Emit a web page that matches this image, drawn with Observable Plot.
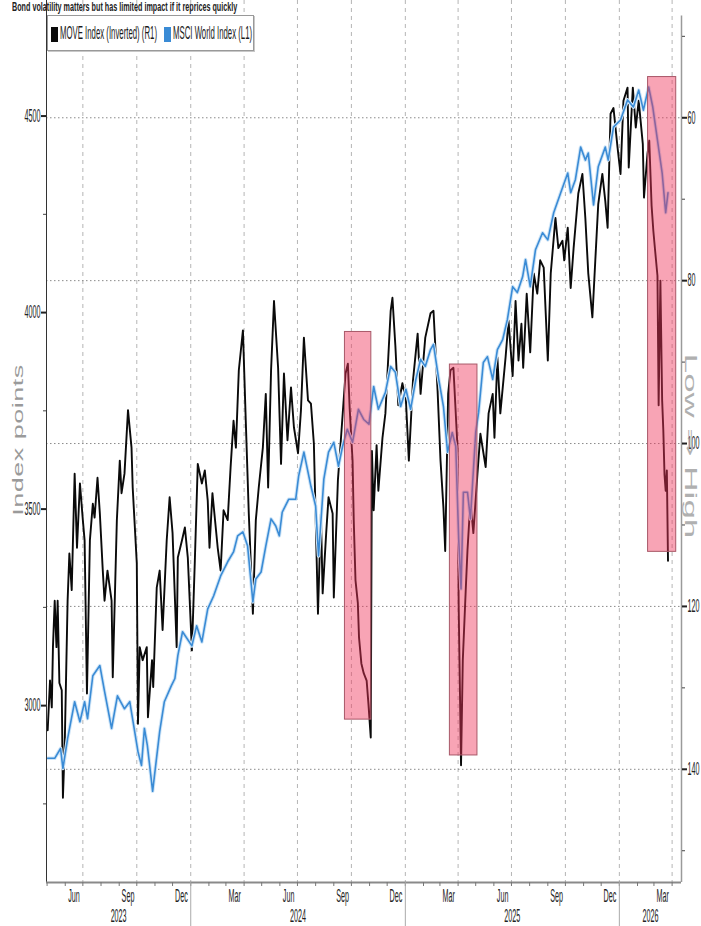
<!DOCTYPE html>
<html><head><meta charset="utf-8">
<script src="https://cdn.jsdelivr.net/npm/d3@7"></script>
<script src="https://cdn.jsdelivr.net/npm/@observablehq/plot@0.6"></script>
<style>
body{margin:0;background:#fff;}
#wrap{position:relative;width:701px;height:926px;overflow:hidden;background:#fff;font-family:"Liberation Sans",Arial,sans-serif;}
#wrap svg{position:absolute;left:0;top:0;}
#title{position:absolute;left:12px;top:1px;font-size:12px;line-height:12px;font-weight:bold;color:#222;white-space:nowrap;transform:scaleX(0.6);transform-origin:left top;}
#legend{position:absolute;left:47px;top:15px;width:205px;height:34px;background:#fff;border:1px solid #999;box-shadow:1px 1px 0 #c8c8c8;}
.lg{position:absolute;top:6px;font-size:19px;color:#1a1a1a;white-space:nowrap;transform:scaleX(0.41);transform-origin:left top;line-height:22px;}
.sw{position:absolute;top:11px;width:7px;height:15px;}
#ylab{position:absolute;left:18px;top:440px;font-size:27px;color:#9a9a9a;white-space:nowrap;transform:translate(-50%,-50%) rotate(-90deg) scaleY(0.55);letter-spacing:0.5px;}
#lowhigh{position:absolute;left:691px;top:446px;font-size:35px;color:#b0b0b0;white-space:nowrap;transform:translate(-50%,-50%) rotate(90deg) scaleY(0.47);}
</style></head>
<body><div id="wrap"></div>
<script>
// ---------- data ----------
const titleText = "Bond volatility matters but has limited impact if it reprices quickly";
const seriesNames = ["MOVE Index (Inverted) (R1)", "MSCI World Index (L1)"];
const seriesColors = ["#0a0a0a", "#3a8bd5"];

const moveDates = ["2023-05-02","2023-05-06","2023-05-09","2023-05-11","2023-05-14","2023-05-17","2023-05-19","2023-05-22","2023-05-26","2023-05-28","2023-05-31","2023-06-05","2023-06-08","2023-06-12","2023-06-17","2023-06-21","2023-06-26","2023-07-01","2023-07-04","2023-07-08","2023-07-13","2023-07-18","2023-07-21","2023-07-26","2023-07-30","2023-08-04","2023-08-07","2023-08-12","2023-08-19","2023-08-21","2023-08-28","2023-09-02","2023-09-05","2023-09-10","2023-09-16","2023-09-22","2023-09-24","2023-10-01","2023-10-03","2023-10-06","2023-10-11","2023-10-18","2023-10-20","2023-10-27","2023-10-29","2023-11-04","2023-11-09","2023-11-14","2023-11-21","2023-11-26","2023-12-01","2023-12-08","2023-12-10","2023-12-17","2023-12-22","2023-12-27","2024-01-03","2024-01-08","2024-01-13","2024-01-20","2024-01-25","2024-01-30","2024-02-02","2024-02-07","2024-02-16","2024-02-21","2024-02-26","2024-03-04","2024-03-09","2024-03-14","2024-03-18","2024-03-23","2024-03-30","2024-04-04","2024-04-09","2024-04-16","2024-04-21","2024-04-26","2024-05-03","2024-05-08","2024-05-12","2024-05-17","2024-05-22","2024-05-29","2024-06-03","2024-06-08","2024-06-14","2024-06-20","2024-06-25","2024-07-02","2024-07-07","2024-07-12","2024-07-19","2024-07-24","2024-07-29","2024-08-05","2024-08-10","2024-08-13","2024-08-19","2024-08-23","2024-08-30","2024-09-01","2024-09-08","2024-09-13","2024-09-21","2024-09-25","2024-09-28","2024-10-03","2024-10-05","2024-10-08","2024-10-12","2024-10-14","2024-10-18","2024-10-22","2024-10-27","2024-10-30","2024-11-03","2024-11-05","2024-11-08","2024-11-13","2024-11-16","2024-11-23","2024-11-28","2024-12-07","2024-12-10","2024-12-15","2024-12-20","2024-12-27","2025-01-02","2025-01-07","2025-01-14","2025-01-22","2025-01-27","2025-02-04","2025-02-13","2025-02-18","2025-02-25","2025-03-02","2025-03-07","2025-03-10","2025-03-15","2025-03-19","2025-03-24","2025-03-31","2025-04-02","2025-04-06","2025-04-09","2025-04-14","2025-04-17","2025-04-22","2025-04-27","2025-05-04","2025-05-09","2025-05-18","2025-05-23","2025-05-30","2025-06-02","2025-06-07","2025-06-12","2025-06-21","2025-06-26","2025-07-03","2025-07-08","2025-07-13","2025-07-18","2025-07-21","2025-07-27","2025-08-02","2025-08-08","2025-08-14","2025-08-19","2025-08-25","2025-09-01","2025-09-06","2025-09-14","2025-09-19","2025-09-26","2025-09-29","2025-10-05","2025-10-10","2025-10-15","2025-10-23","2025-10-30","2025-11-04","2025-11-09","2025-11-16","2025-11-21","2025-11-26","2025-12-03","2025-12-08","2025-12-12","2025-12-17","2025-12-22","2025-12-29","2026-01-03","2026-01-08","2026-01-15","2026-01-17","2026-01-24","2026-01-29","2026-02-03","2026-02-10","2026-02-12","2026-02-18","2026-02-21","2026-02-25","2026-02-28","2026-03-03","2026-03-07","2026-03-09","2026-03-12","2026-03-15","2026-03-17","2026-03-19","2026-03-21","2026-03-23","2026-03-25"];
const moveValues = [135.2,129.1,132.4,125.0,119.3,125.0,119.3,129.4,130.3,143.5,137.3,119.3,113.5,118.0,103.7,112.8,104.9,109.4,111.9,130.7,111.9,107.4,109.1,104.2,108.6,115.6,119.3,115.6,119.3,128.7,109.4,102.1,106.1,103.7,95.9,100.5,105.4,114.7,134.4,125.0,126.6,125.0,133.6,126.6,129.9,117.7,115.6,122.9,111.9,106.6,111.0,125.0,114.0,111.9,110.3,114.0,125.4,114.4,102.5,104.9,103.3,107.0,112.8,106.1,112.8,115.6,108.2,109.4,102.9,97.2,100.5,91.0,86.1,97.5,108.6,120.9,109.4,105.4,100.5,93.9,105.4,91.0,82.5,90.7,102.5,91.4,99.6,93.1,98.0,101.2,95.9,87.0,94.7,95.1,100.0,120.9,108.6,118.4,111.0,106.6,108.6,118.9,104.5,99.6,91.4,90.2,95.6,102.1,109.4,116.8,119.6,123.8,127.0,128.2,129.1,131.9,136.1,100.9,108.2,100.2,105.8,99.3,96.3,83.7,82.1,88.0,95.3,92.6,94.7,102.1,92.3,86.5,93.9,87.0,84.0,83.7,93.5,102.1,107.9,113.2,93.9,91.0,90.7,100.5,120.1,139.5,126.6,118.0,113.1,107.0,111.0,103.7,98.8,102.9,96.3,93.9,99.3,89.4,96.3,89.4,84.9,91.7,82.5,89.8,85.3,90.7,81.6,88.8,79.1,81.6,77.5,78.4,89.8,79.1,72.3,76.0,75.1,77.5,73.5,80.9,76.0,69.3,66.9,72.3,79.1,84.5,77.5,70.6,66.9,70.2,73.5,59.5,58.8,63.7,66.9,57.9,56.3,66.1,56.3,61.2,57.9,63.2,69.8,64.4,62.8,70.8,73.9,76.3,79.4,95.3,80.0,94.7,98.4,103.8,105.8,103.3,114.4];

const msciDates = ["2023-05-02","2023-05-14","2023-05-24","2023-05-28","2023-06-05","2023-06-17","2023-06-26","2023-07-04","2023-07-09","2023-07-18","2023-07-30","2023-08-07","2023-08-19","2023-08-29","2023-09-10","2023-09-19","2023-10-03","2023-10-09","2023-10-14","2023-10-19","2023-10-28","2023-11-09","2023-11-17","2023-11-29","2023-12-05","2023-12-10","2023-12-18","2024-01-03","2024-01-11","2024-01-20","2024-01-30","2024-02-09","2024-02-21","2024-03-04","2024-03-14","2024-03-21","2024-03-30","2024-04-07","2024-04-16","2024-04-21","2024-04-30","2024-05-08","2024-05-17","2024-05-25","2024-05-31","2024-06-05","2024-06-16","2024-06-28","2024-07-03","2024-07-12","2024-07-24","2024-08-01","2024-08-06","2024-08-15","2024-08-23","2024-09-01","2024-09-09","2024-09-16","2024-09-24","2024-10-03","2024-10-13","2024-10-22","2024-10-31","2024-11-08","2024-11-16","2024-11-28","2024-12-07","2024-12-15","2024-12-24","2025-01-02","2025-01-10","2025-01-19","2025-01-27","2025-02-04","2025-02-13","2025-02-18","2025-02-27","2025-03-07","2025-03-14","2025-03-22","2025-03-28","2025-04-02","2025-04-06","2025-04-10","2025-04-17","2025-04-22","2025-05-01","2025-05-06","2025-05-14","2025-05-21","2025-05-30","2025-06-07","2025-06-16","2025-06-24","2025-07-03","2025-07-11","2025-07-20","2025-07-25","2025-08-02","2025-08-11","2025-08-23","2025-09-01","2025-09-11","2025-09-23","2025-10-05","2025-10-10","2025-10-18","2025-10-27","2025-11-04","2025-11-09","2025-11-18","2025-11-26","2025-12-08","2025-12-13","2025-12-22","2026-01-03","2026-01-15","2026-01-25","2026-02-03","2026-02-11","2026-02-20","2026-02-27","2026-03-07","2026-03-15","2026-03-21","2026-03-25"];
const msciValues = [2866,2866,2891,2840,2916,3010,2959,3010,2967,3076,3102,3036,2942,3025,2992,3010,2883,2848,2942,2899,2782,2934,3010,3051,3069,3127,3188,3152,3203,3162,3246,3279,3330,3366,3391,3432,3442,3406,3264,3322,3340,3406,3475,3457,3432,3492,3525,3525,3584,3645,3558,3508,3381,3576,3645,3670,3609,3660,3703,3670,3754,3728,3716,3812,3754,3797,3863,3848,3761,3805,3754,3830,3881,3863,3906,3919,3830,3761,3645,3695,3660,3424,3297,3543,3543,3475,3695,3746,3873,3888,3830,3906,3931,3982,4066,4051,4091,4135,4066,4160,4203,4185,4254,4305,4355,4305,4338,4421,4388,4406,4274,4371,4421,4388,4472,4490,4541,4523,4566,4515,4574,4523,4439,4355,4254,4305];

// highlighted windows (MOVE units for top / bottom)
const boxStart = ["2024-09-20","2025-03-18","2026-02-19"];
const boxEnd   = ["2024-11-04","2025-05-04","2026-04-08"];
const boxTop    = [86.3, 90.3, 55.0];
const boxBottom = [133.9, 138.3, 113.3];

// axes
const xDomain = ["2023-04-30","2026-04-17"];
const leftDomain = [2550, 4794];      // MSCI World, bottom -> top
const rightDomain = [153.9, 45.6];    // MOVE inverted, bottom -> top
const leftTicks = [3000, 3500, 4000, 4500];
const leftMinor = [2750, 3250, 3750, 4250];
const rightTicks = [60, 80, 100, 120, 140];
const rightMinor = [50, 70, 90, 110, 130, 150];
const labeledMonths = ["Mar", "Jun", "Sep", "Dec"];
const leftLabel = "Index points";
const rightNote = "Low \u21D2 High";

// ---------- build ----------
const parse = d3.utcParse("%Y-%m-%d");
const moveData = moveDates.map((d, i) => ({date: parse(d), value: moveValues[i]}));
const msciData = msciDates.map((d, i) => ({date: parse(d), value: msciValues[i]}));
const boxes = boxStart.map((d, i) => ({x1: parse(d), x2: parse(boxEnd[i]), top: boxTop[i], bottom: boxBottom[i]}));
const xd = xDomain.map(parse);
const toY = d3.scaleLinear().domain(rightDomain).range(leftDomain);

const months = d3.utcMonths(xd[0], xd[1]);
const quarterStarts = months.filter(d => d.getUTCMonth() % 3 === 0);
const fmtMonth = d3.utcFormat("%b");
const labelDates = months.filter(d => labeledMonths.includes(fmtMonth(d))).map(d => d3.utcDay.offset(d, 15));
const yearStarts = months.filter(d => d.getUTCMonth() === 0);
const years = d3.range(xd[0].getUTCFullYear(), xd[1].getUTCFullYear() + 1);
const yearCenters = years.map(y => {
  const a = Math.max(+xd[0], Date.UTC(y, 0, 1)), b = Math.min(+xd[1], Date.UTC(y + 1, 0, 1));
  return new Date((a + b) / 2);
});

const chart = Plot.plot({
  width: 701, height: 926,
  marginTop: 0, marginBottom: 44, marginLeft: 46, marginRight: 20,
  x: {type: "utc", domain: xd, label: null},
  y: {domain: leftDomain, label: null},
  style: {fontFamily: '"Liberation Sans", Arial, sans-serif', fontSize: "18px", color: "#222", background: "#fff"},
  marks: [
    Plot.gridX({ticks: quarterStarts, stroke: "#b5b5b5", strokeOpacity: 1, strokeDasharray: "4,4"}),
    Plot.gridY({ticks: rightTicks.map(toY), stroke: "#8a8a8a", strokeOpacity: 1, strokeDasharray: "1.5,2.5"}),
    Plot.line(moveData, {x: "date", y: d => toY(d.value), stroke: seriesColors[0], strokeWidth: 1.9}),
    Plot.line(msciData, {x: "date", y: "value", stroke: "#cfe5f7", strokeWidth: 3.6}),
    Plot.line(msciData, {x: "date", y: "value", stroke: seriesColors[1], strokeWidth: 1.6}),
    Plot.rect(boxes, {x1: "x1", x2: "x2", y1: d => toY(d.top), y2: d => toY(d.bottom), fill: "#f0365a", fillOpacity: 0.45, stroke: "#a85868", strokeWidth: 1}),
    Plot.ruleX([xd[0]], {stroke: "#333", strokeWidth: 1}),
    Plot.ruleX([xd[1]], {y1: leftDomain[0], y2: toY(47.5), stroke: "#9a9a9a", strokeWidth: 1.5}),
    Plot.ruleY([leftDomain[0]], {stroke: "#8a8a8a", strokeWidth: 2}),
    // x axis
    Plot.axisX({ticks: months, tickSize: 4, tickFormat: () => "", stroke: "#777"}),
    Plot.axisX({ticks: yearStarts, tickSize: 44, tickFormat: () => "", stroke: "#aaa"}),
    Plot.axisX({ticks: labelDates, tickSize: 0, tickPadding: 7, tickFormat: fmtMonth}),
    Plot.axisX({ticks: yearCenters, tickSize: 0, tickPadding: 27, tickFormat: d3.utcFormat("%Y")}),
    // left axis
    Plot.axisY({anchor: "left", ticks: leftTicks, tickSize: 5, tickPadding: 1, strokeWidth: 2, stroke: "#222", tickFormat: d => String(d)}),
    Plot.axisY({anchor: "left", ticks: leftMinor, tickSize: 3, tickFormat: () => "", stroke: "#444"}),
    // right axis (MOVE, inverted)
    Plot.axisY({anchor: "right", ticks: rightTicks.map(toY), tickSize: 5, tickPadding: 1, strokeWidth: 2, stroke: "#222", tickFormat: d => String(Math.round(toY.invert(d)))}),
    Plot.axisY({anchor: "right", ticks: rightMinor.map(toY), tickSize: 3, tickFormat: () => "", stroke: "#444"})
  ]
});

// condensed look of the original tick labels
chart.querySelectorAll('g[aria-label$="tick label"] text').forEach(t => {
  let tr = t.getAttribute("transform") || "";
  const x = t.getAttribute("x");
  if (x !== null) { tr += ` translate(${x},0)`; t.removeAttribute("x"); }
  t.setAttribute("transform", tr + " scale(0.4,1)");
});

const wrap = document.getElementById("wrap");
wrap.appendChild(chart);

const title = document.createElement("div");
title.id = "title"; title.textContent = titleText; wrap.appendChild(title);

const legend = document.createElement("div");
legend.id = "legend";
legend.innerHTML =
  `<span class="sw" style="left:3px;background:${seriesColors[0]}"></span>` +
  `<span class="lg" style="left:12px">${seriesNames[0]}</span>` +
  `<span class="sw" style="left:116px;background:${seriesColors[1]}"></span>` +
  `<span class="lg" style="left:125px">${seriesNames[1]}</span>`;
wrap.appendChild(legend);

const yl = document.createElement("div");
yl.id = "ylab"; yl.textContent = leftLabel; wrap.appendChild(yl);

const lh = document.createElement("div");
lh.id = "lowhigh"; lh.textContent = rightNote; wrap.appendChild(lh);
</script>
</body></html>
